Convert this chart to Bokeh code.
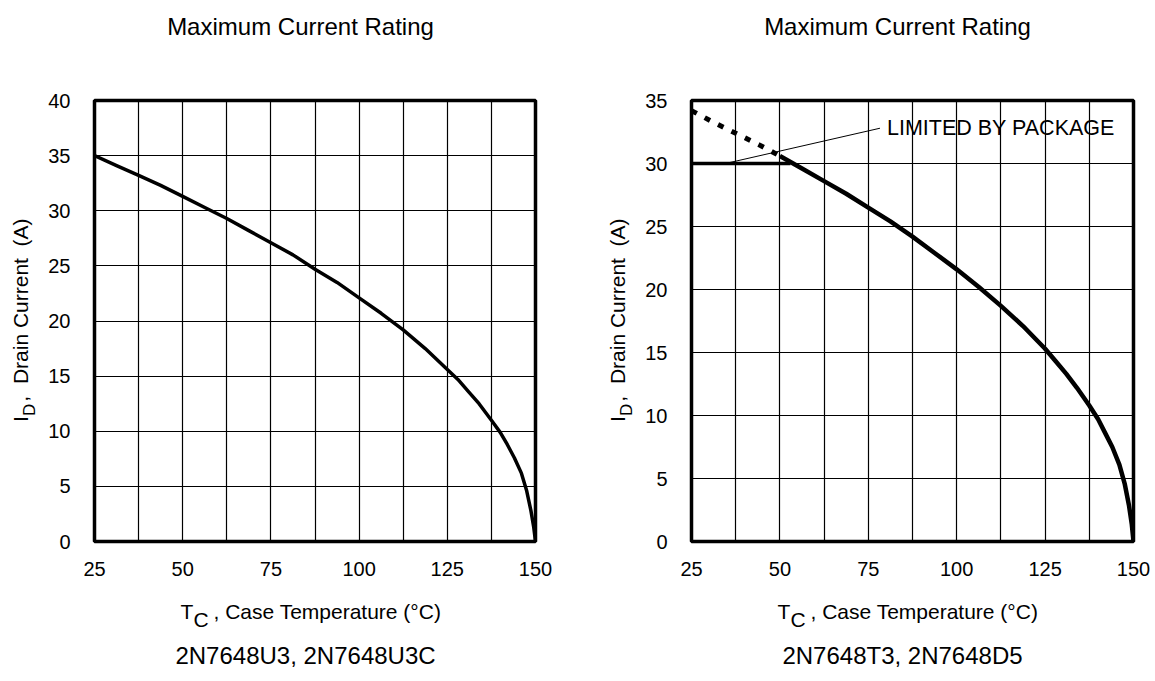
import numpy as np
from bokeh.plotting import figure
from bokeh.models import Range1d, FixedTicker, Label
from bokeh.layouts import row, column
from bokeh.embed import file_html
from bokeh.resources import INLINE

FONT = "Liberation Sans"

# ---- data ----
x_tick_vals = [25, 50, 75, 100, 125, 150]
x_grid_vals = [25, 37.5, 50, 62.5, 75, 87.5, 100, 112.5, 125, 137.5, 150]
y_ticks_left = [0, 5, 10, 15, 20, 25, 30, 35, 40]
y_ticks_right = [0, 5, 10, 15, 20, 25, 30, 35]

left_T = [25, 31.25, 37.5, 43.75, 50, 56.25, 62.5, 68.75, 75, 81.25, 87.5, 93.75, 100,
          106.25, 112.5, 118.75, 125, 128, 131, 134, 137.5, 140, 142, 144, 146, 147.5, 148.7, 149.5, 150]
left_I = [35.0, 34.1, 33.2, 32.3, 31.3, 30.3, 29.3, 28.2, 27.1, 26.0, 24.7, 23.5, 22.1,
          20.7, 19.2, 17.5, 15.6, 14.7, 13.6, 12.5, 11.0, 9.9, 8.8, 7.6, 6.2, 4.6, 2.8, 1.3, 0.0]

right_T = [50, 56.25, 62.5, 68.75, 75, 81.25, 87.5, 93.75, 100, 106.25, 112.5, 118.75, 125,
           128, 131, 134, 137.5, 140, 142, 144, 146, 147.5, 148.7, 149.5, 150]
right_I = [30.6, 29.6, 28.6, 27.6, 26.5, 25.4, 24.2, 22.9, 21.6, 20.2, 18.7, 17.1, 15.3,
           14.3, 13.3, 12.2, 10.8, 9.7, 8.6, 7.5, 6.1, 4.6, 2.9, 1.4, 0.0]

dash_T = [25, 31, 37.5, 44, 50]
dash_I = [34.2, 33.3, 32.4, 31.5, 30.6]

pkg_T = [25, 53]
pkg_I = [30, 30]

leader_T = [34.6, 78.3]
leader_I = [30.0, 32.8]
note_text = "LIMITED BY PACKAGE"

titles = ["Maximum Current Rating", "Maximum Current Rating"]
subtitles = ["2N7648U3, 2N7648U3C", "2N7648T3, 2N7648D5"]
x_label_main = "T"
x_label_sub = "C"
x_label_rest = ", Case Temperature (\u00b0C)"
y_label_main = "I"
y_label_sub = "D"
y_label_rest = ",\u00a0 Drain Current\u00a0 (A)"

# ---- layout sizes (pixels) ----
TOP_H = 90          # title strip
MID_H = 495         # chart row
BOT_H = 90          # x-label / subtitle strip
STRIP_W = 45        # y-label strip
FRAME_H = 441
CH_TOP = 10
CH_BOT = MID_H - CH_TOP - FRAME_H
LEFT_CHART_W = 552
RIGHT_CHART_W = 508
TOTAL_W = STRIP_W + LEFT_CHART_W + STRIP_W + RIGHT_CHART_W
FRAME_LEFTS = [92, 689]   # page x of each frame's left edge


def strip(w, h):
    s = figure(width=w, height=h, x_range=Range1d(0, w), y_range=Range1d(0, h),
               output_backend="svg", toolbar_location=None, title_location=None,
               x_axis_type=None, y_axis_type=None, min_border=0)
    s.grid.visible = False
    s.outline_line_color = None
    s.background_fill_color = "white"
    s.border_fill_color = "white"
    return s


def lab(p, text, x, y, size="21px", align="left", angle=0.0):
    p.add_layout(Label(x=x, y=y, text=text, text_font=FONT, text_font_size=size,
                       text_color="black", text_align=align, text_baseline="middle",
                       angle=angle))


def make_chart(width, bl, br, ymax, yticks):
    p = figure(width=width, height=MID_H, x_range=Range1d(25, 150), y_range=Range1d(0, ymax),
               output_backend="svg", toolbar_location=None, title_location=None,
               min_border_left=bl, min_border_right=br, min_border_top=CH_TOP,
               min_border_bottom=CH_BOT)
    p.background_fill_color = "white"
    p.border_fill_color = "white"
    p.outline_line_color = "black"
    p.outline_line_width = 3.5
    p.xaxis.ticker = FixedTicker(ticks=x_tick_vals)
    p.yaxis.ticker = FixedTicker(ticks=yticks)
    p.xgrid.ticker = FixedTicker(ticks=x_grid_vals)
    p.ygrid.ticker = FixedTicker(ticks=yticks)
    for g in (p.xgrid, p.ygrid):
        g.grid_line_color = "black"
        g.grid_line_alpha = 1.0
        g.grid_line_width = 1.2
    for ax in (p.xaxis, p.yaxis):
        ax.axis_line_color = None
        ax.major_tick_line_color = None
        ax.minor_tick_line_color = None
        ax.major_label_text_font = FONT
        ax.major_label_text_font_size = "20px"
        ax.major_label_text_color = "black"
    p.xaxis.major_label_standoff = 14
    p.yaxis.major_label_standoff = 18
    return p


# ---- top strip: titles ----
top = strip(TOTAL_W, TOP_H)
for i, fl in enumerate(FRAME_LEFTS):
    lab(top, titles[i], fl + 208, TOP_H - 26, size="24px", align="center")

# ---- bottom strip: x labels and part numbers ----
bot = strip(TOTAL_W, BOT_H)
for i, fl in enumerate(FRAME_LEFTS):
    tx = fl + 88
    lab(bot, x_label_main, tx, BOT_H - 26)
    lab(bot, x_label_sub, tx + 13, BOT_H - 34)
    lab(bot, x_label_rest, tx + 33, BOT_H - 26)
    lab(bot, subtitles[i], fl + 213, BOT_H - 70, size="24px", align="center")


# ---- y-label strips ----
def ylabel_strip():
    s = strip(STRIP_W, MID_H)
    a = np.pi / 2
    base = MID_H - (427 - TOP_H) - 24
    lab(s, y_label_main, 19.5, base, angle=a)
    lab(s, y_label_sub, 29, base + 7, size="17px", angle=a)
    lab(s, y_label_rest, 19.5, base + 23, angle=a)
    return s


# ---- charts ----
left = make_chart(LEFT_CHART_W, FRAME_LEFTS[0] - STRIP_W, 62, 40, y_ticks_left)
left.line(left_T, left_I, line_color="black", line_width=3.5, line_join="round")

right = make_chart(RIGHT_CHART_W, FRAME_LEFTS[1] - STRIP_W - LEFT_CHART_W - STRIP_W, 17, 35, y_ticks_right)
right.line(pkg_T, pkg_I, line_color="black", line_width=3.5)
right.line(dash_T, dash_I, line_color="black", line_width=5, line_dash="6 9")
right.line(leader_T, leader_I, line_color="black", line_width=1)
right.line(right_T, right_I, line_color="black", line_width=4.5, line_join="round")
right.add_layout(Label(x=leader_T[1], y=leader_I[1], x_offset=7, text=note_text,
                       text_font=FONT, text_font_size="21.5px", text_color="black",
                       text_align="left", text_baseline="middle"))

layout = column(top, row(ylabel_strip(), left, ylabel_strip(), right), bot)
open("out.html", "w").write(file_html(layout, INLINE))
